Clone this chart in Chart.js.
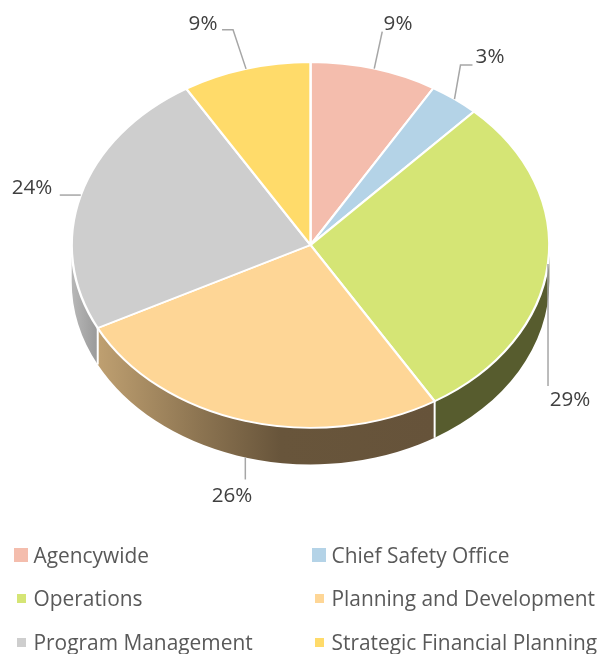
<!DOCTYPE html>
<html>
<head>
<meta charset="utf-8">
<script src="https://cdn.jsdelivr.net/npm/chart.js@4"></script>
<style>
  html, body { margin: 0; padding: 0; background: #fff; }
  #wrap { position: relative; width: 600px; height: 654px; overflow: hidden; }
  #legend { position: absolute; left: 0; top: 0; font: 20.9px "Open Sans", sans-serif; color: #595959; }
  #legend span { position: absolute; white-space: nowrap; }
</style>
</head>
<body>
<div id="wrap">
  <canvas id="pie" width="600" height="654"></canvas>
  <div id="legend"></div>
</div>
<script>
const categories = ["Agencywide", "Chief Safety Office", "Operations", "Planning and Development", "Program Management", "Strategic Financial Planning"];
const shares = [8.6, 3.4, 29.3, 26.2, 23.8, 8.7];
const colors = ["#F4BDAD", "#B4D3E7", "#D5E575", "#FED696", "#CECECE", "#FFDB6A"];

// side wall of the pie, horizontal gradient stops [x, colour]
const wallStops = [
  null, null,
  [[435, "#575C2E"], [549, "#575C2E"]],
  [[97, "#BFA071"], [200, "#8C7451"], [280, "#68553B"], [435, "#66533A"]],
  [[71, "#B8B8B8"], [97, "#9A9A9A"]],
  null
];

// leader line elbows, relative to the slice's anchor on the rim
const leaderBends = [
  [[8, -37]],
  [[6, -34], [18, -34]],
  [[0, 122]],
  [[0, 22]],
  [[-21, 0]],
  [[-13, -39], [-24, -39]]
];
const labelPos = [[398, 24], [490, 57], [570, 400], [232, 496], [32, 188], [203, 24]];

const FLATTEN = 0.766;
const DEPTH = 36.5;

const pie3d = {
  id: "pie3d",
  beforeDatasetsDraw(chart) {
    const ctx = chart.ctx;
    const arcs = chart.getDatasetMeta(0).data;
    arcs.forEach((arc, i) => {
      if (!wallStops[i]) return;
      const p = arc.getProps(["x", "y", "startAngle", "endAngle", "outerRadius"]);
      const a0 = Math.max(p.startAngle, 0);
      const a1 = Math.min(p.endAngle, Math.PI);
      const rx = p.outerRadius;
      const ry = rx * FLATTEN;
      const x0 = wallStops[i][0][0];
      const span = wallStops[i][wallStops[i].length - 1][0] - x0;
      const grad = ctx.createLinearGradient(x0, 0, x0 + span, 0);
      wallStops[i].forEach(s => grad.addColorStop((s[0] - x0) / span, s[1]));
      ctx.beginPath();
      ctx.ellipse(p.x, p.y, rx, ry, 0, a0, a1);
      ctx.ellipse(p.x, p.y + DEPTH, rx, ry, 0, a1, a0, true);
      ctx.closePath();
      ctx.fillStyle = grad;
      ctx.fill();
    });
    // white seams between the walls
    arcs.forEach(arc => {
      const p = arc.getProps(["x", "y", "endAngle", "outerRadius"]);
      if (p.endAngle <= 0 || p.endAngle >= Math.PI) return;
      const x = p.x + p.outerRadius * Math.cos(p.endAngle);
      const y = p.y + p.outerRadius * FLATTEN * Math.sin(p.endAngle);
      ctx.beginPath();
      ctx.moveTo(x, y);
      ctx.lineTo(x, y + DEPTH);
      ctx.strokeStyle = "#fff";
      ctx.lineWidth = 2;
      ctx.stroke();
    });
    const c = arcs[0].getProps(["x", "y"]);
    ctx.save();
    ctx.translate(c.x, c.y);
    ctx.scale(1, FLATTEN);
    ctx.translate(-c.x, -c.y);
  },
  afterDatasetsDraw(chart) {
    const ctx = chart.ctx;
    ctx.restore();
    const arcs = chart.getDatasetMeta(0).data;
    const total = shares.reduce((a, b) => a + b, 0);
    arcs.forEach((arc, i) => {
      const p = arc.getProps(["x", "y", "startAngle", "endAngle", "outerRadius"]);
      const mid = (p.startAngle + p.endAngle) / 2;
      const ax = p.x + p.outerRadius * Math.cos(mid);
      let ay = p.y + p.outerRadius * FLATTEN * Math.sin(mid);
      // the line of a front slice starts at the bottom of the wall
      if (mid > Math.PI / 4 && mid < Math.PI) ay += DEPTH;
      ctx.beginPath();
      ctx.moveTo(ax, ay);
      leaderBends[i].forEach(b => ctx.lineTo(ax + b[0], ay + b[1]));
      ctx.strokeStyle = "#A6A6A6";
      ctx.lineWidth = 1.5;
      ctx.stroke();
      ctx.fillStyle = "#404040";
      ctx.font = '20.6px "Open Sans", sans-serif';
      ctx.textAlign = "center";
      ctx.textBaseline = "middle";
      ctx.fillText(Math.round(shares[i] / total * 100) + "%", labelPos[i][0], labelPos[i][1]);
    });
  }
};

new Chart(document.getElementById("pie"), {
  type: "pie",
  data: {
    labels: categories,
    datasets: [{
      data: shares,
      backgroundColor: colors,
      borderColor: "#fff",
      borderWidth: 2.4,
      clip: false
    }]
  },
  options: {
    responsive: false,
    animation: false,
    layout: { padding: { left: 21, right: 0, top: 5, bottom: 169 } },
    plugins: { legend: { display: false }, tooltip: { enabled: false } }
  },
  plugins: [pie3d]
});

// legend, two columns; the first row has the larger swatches as in the source
const legendBox = document.getElementById("legend");
const legendCols = [14, 312];
const legendRows = [555, 598, 642];
categories.forEach((name, i) => {
  const col = i % 2, row = Math.floor(i / 2);
  const size = row === 0 ? 14 : 9;
  const sw = document.createElement("span");
  sw.style.cssText = `left:${legendCols[col] + (14 - size) / 2}px;top:${legendRows[row] - size / 2}px;width:${size}px;height:${size}px;background:${colors[i]}`;
  const tx = document.createElement("span");
  tx.textContent = name;
  tx.style.cssText = `left:${legendCols[col] + 19.5}px;top:${legendRows[row] - 14}px;line-height:28px`;
  legendBox.append(sw, tx);
});
</script>
</body>
</html>
